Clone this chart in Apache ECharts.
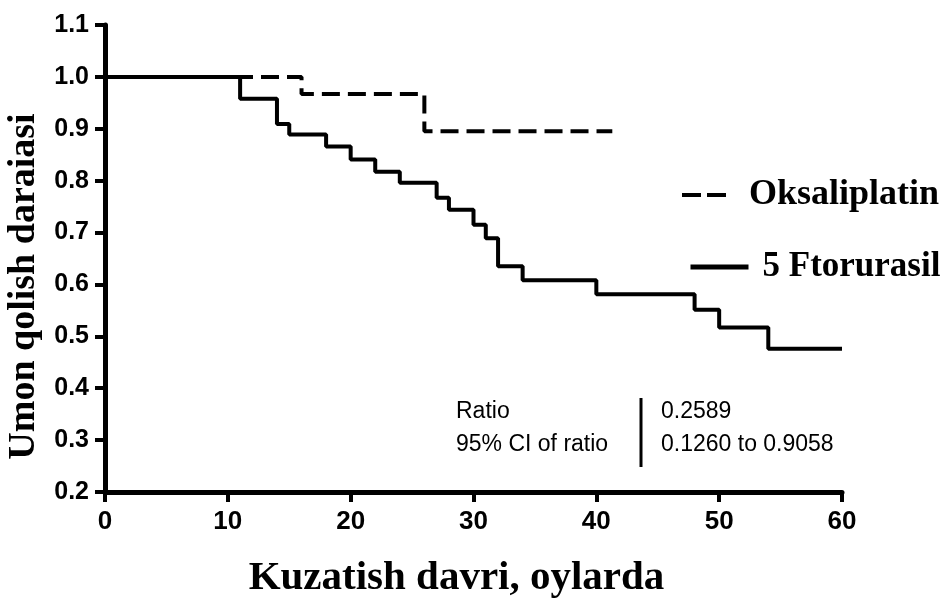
<!DOCTYPE html>
<html>
<head>
<meta charset="utf-8">
<script src="https://cdn.jsdelivr.net/npm/echarts@6/dist/echarts.min.js"></script>
<style>
  html, body { margin: 0; padding: 0; background: #fff; }
  #chart { width: 952px; height: 608px; }
</style>
</head>
<body>
<div id="chart"></div>
<script>
// survival curves (months, survival fraction)
const oksTime = [0, 16, 26, 41.3];
const oksSurv = [1.0, 0.967, 0.895, 0.895];
const ftorTime = [0, 11, 14, 15, 18, 20, 22, 24, 27, 28, 30, 31, 32, 34, 40, 48, 50, 54, 60];
const ftorSurv = [1.0, 0.958, 0.909, 0.889, 0.866, 0.841, 0.817, 0.796, 0.767, 0.744, 0.715, 0.689, 0.635, 0.608, 0.581, 0.551, 0.517, 0.476, 0.476];

const seriesNames = ['Oksaliplatin', '5 Ftorurasil'];
const statLabels = ['Ratio', '95% CI of ratio'];
const statValues = ['0.2589', '0.1260 to 0.9058'];

const chart = echarts.init(document.getElementById('chart'));

const pairs = (xs, ys) => xs.map((x, i) => [x, ys[i]]);

const legendText = {
  fontFamily: 'Liberation Serif',
  fontWeight: 'bold',
  color: '#000',
  lineHeight: 40
};
const statFont = '23px "Liberation Sans"';

const option = {
  animation: false,
  backgroundColor: '#fff',
  grid: { left: 105, right: 110, top: 25, bottom: 116, outerBoundsMode: 'none', containLabel: false },
  xAxis: {
    type: 'value',
    min: 0,
    max: 60,
    interval: 10,
    name: 'Kuzatish davri, oylarda',
    nameLocation: 'middle',
    nameGap: 66,
    nameTextStyle: {
      fontFamily: 'Liberation Serif', fontWeight: 'bold', fontSize: 41, color: '#000',
      padding: [0, 34, 0, 0]
    },
    axisLine: { onZero: false, lineStyle: { color: '#000', width: 5 } },
    axisTick: { length: 10, lineStyle: { color: '#000', width: 4 } },
    axisLabel: {
      margin: 17, fontFamily: 'Liberation Sans', fontWeight: 'bold', fontSize: 26, color: '#000'
    },
    splitLine: { show: false }
  },
  yAxis: {
    type: 'value',
    min: 0.2,
    max: 1.1,
    interval: 0.1,
    name: 'Umon qolish daraiasi',
    nameLocation: 'middle',
    nameRotate: 90,
    nameGap: 60,
    nameTextStyle: {
      fontFamily: 'Liberation Serif', fontWeight: 'bold', fontSize: 38, color: '#000',
      padding: [0, 56, 0, 0]
    },
    axisLine: { show: true, onZero: false, lineStyle: { color: '#000', width: 5 } },
    axisTick: { show: true, length: 10, lineStyle: { color: '#000', width: 4 } },
    axisLabel: {
      margin: 16, fontFamily: 'Liberation Sans', fontWeight: 'bold', fontSize: 25, color: '#000',
      formatter: v => v.toFixed(1)
    },
    splitLine: { show: false }
  },
  legend: [
    {
      data: [seriesNames[0]],
      left: 675, top: 170,
      itemWidth: 48, itemHeight: 10,
      itemStyle: { opacity: 0 },
      lineStyle: { color: '#000', width: 4, type: [19, 6] },
      textStyle: Object.assign({ fontSize: 36, padding: [0, 0, 0, 14] }, legendText)
    },
    {
      data: [seriesNames[1]],
      left: 683, top: 242,
      itemWidth: 58, itemHeight: 10,
      itemStyle: { opacity: 0 },
      lineStyle: { color: '#000', width: 5, type: 'solid' },
      textStyle: Object.assign({ fontSize: 35, padding: [0, 0, 0, 9] }, legendText)
    }
  ],
  graphic: [
    { type: 'text', left: 456, top: 400, style: { text: statLabels[0], font: statFont, fill: '#000' } },
    { type: 'text', left: 456, top: 433, style: { text: statLabels[1], font: statFont, fill: '#000' } },
    { type: 'line', shape: { x1: 641, y1: 398, x2: 641, y2: 467 }, style: { stroke: '#000', lineWidth: 3 } },
    { type: 'text', left: 661, top: 400, style: { text: statValues[0], font: statFont, fill: '#000' } },
    { type: 'text', left: 661, top: 433, style: { text: statValues[1], font: statFont, fill: '#000' } }
  ],
  series: [
    {
      name: seriesNames[0],
      type: 'line',
      step: 'end',
      symbol: 'none',
      data: pairs(oksTime, oksSurv),
      lineStyle: { color: '#000', width: 4, type: [18, 8] },
      itemStyle: { color: '#000' },
      z: 2
    },
    {
      name: seriesNames[1],
      type: 'line',
      step: 'end',
      symbol: 'none',
      data: pairs(ftorTime, ftorSurv),
      lineStyle: { color: '#000', width: 4 },
      itemStyle: { color: '#000' },
      z: 3
    }
  ]
};

chart.setOption(option);
</script>
</body>
</html>
